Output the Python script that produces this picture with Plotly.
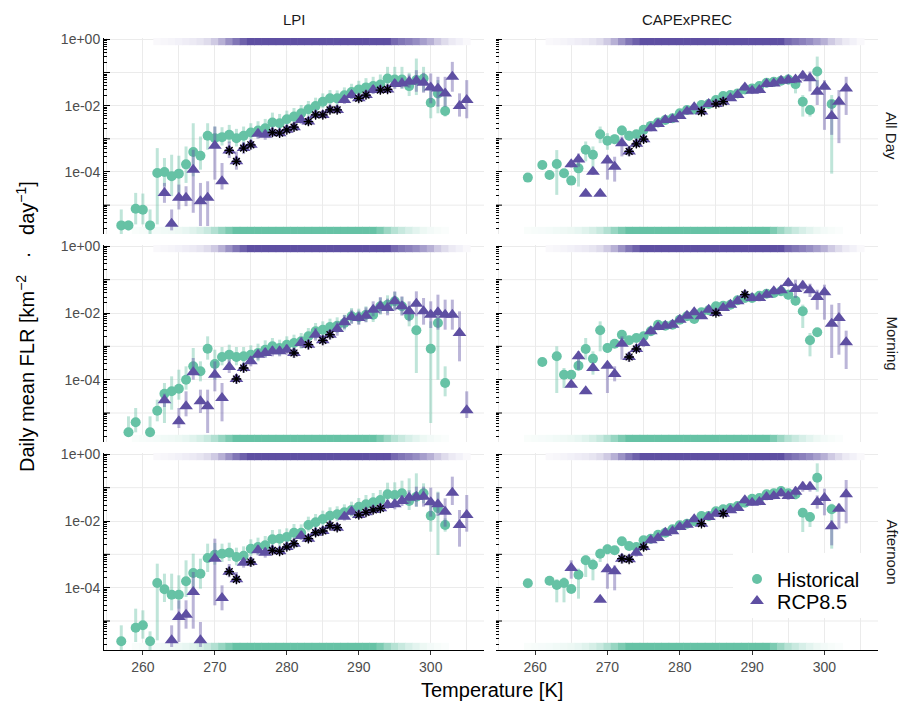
import plotly.graph_objects as go

# ---------------- data (T [K], log10 FLR, err down [dec], err up [dec]) ----------------
LPI_ALLDAY_HIST = [
    (257, -5.61, 0.30, 0.48), (258, -5.61, 0.15, 0.15), (259, -5.11, 0.47, 0.48), (260, -5.14, 0.44, 0.49),
    (261, -5.61, 0.30, 0.48), (262, -4.03, 1.55, 0.75), (263, -4.00, 0.43, 0.42), (264, -4.13, 0.60, 0.65),
    (265, -4.05, 0.58, 0.54), (266, -3.77, 0.56, 0.54), (267, -3.40, 0.73, 0.87), (268, -3.51, 0.42, 0.58),
    (269, -2.91, 0.42, 0.38), (270, -2.98, 0.25, 0.35), (271, -2.95, 0.25, 0.30), (272, -2.88, 0.25, 0.30),
    (273, -2.98, 0.25, 0.28), (274, -2.91, 0.25, 0.28), (275, -2.81, 0.22, 0.28), (276, -2.75, 0.22, 0.28),
    (277, -2.68, 0.22, 0.28), (278, -2.51, 0.22, 0.30), (279, -2.53, 0.22, 0.28), (280, -2.41, 0.20, 0.26),
    (281, -2.33, 0.20, 0.26), (282, -2.23, 0.20, 0.25), (283, -2.11, 0.20, 0.25), (284, -2.01, 0.20, 0.25),
    (285, -1.88, 0.20, 0.25), (286, -1.78, 0.20, 0.25), (287, -1.78, 0.20, 0.24), (288, -1.69, 0.20, 0.24),
    (289, -1.59, 0.20, 0.25), (290, -1.51, 0.20, 0.26), (291, -1.45, 0.22, 0.28), (292, -1.41, 0.22, 0.28),
    (293, -1.36, 0.22, 0.30), (294, -1.18, 0.25, 0.35), (295, -1.21, 0.25, 0.38), (296, -1.21, 0.28, 0.38),
    (297, -1.41, 0.30, 0.40), (298, -1.23, 0.45, 0.65), (299, -1.18, 0.40, 0.35), (300, -1.91, 0.47, 0.43),
    (301, -1.63, 0.60, 0.40), (302, -2.16, 0.17, 0.43),
]
LPI_ALLDAY_RCP = [
    (263, -4.63, 0.30, 0.30), (264, -5.56, 0.20, 0.43), (265, -4.78, 0.35, 0.40), (266, -4.78, 0.25, 0.35),
    (267, -3.93, 1.30, 0.60), (268, -4.88, 0.75, 0.55), (269, -4.78, 0.85, 0.50), (270, -3.21, 1.02, 0.58),
    (271, -4.28, 0.25, 0.55), (272, -3.35, 0.23, 0.27), (273, -3.68, 0.25, 0.30), (274, -3.28, 0.18, 0.18),
    (275, -3.18, 0.15, 0.15), (276, -2.85, 0.15, 0.15), (277, -2.88, 0.15, 0.15), (278, -2.81, 0.12, 0.12),
    (279, -2.83, 0.12, 0.12), (280, -2.73, 0.12, 0.12), (281, -2.65, 0.12, 0.12), (282, -2.43, 0.12, 0.15),
    (283, -2.48, 0.12, 0.12), (284, -2.28, 0.12, 0.12), (285, -2.28, 0.12, 0.12), (286, -2.13, 0.12, 0.12),
    (287, -2.13, 0.12, 0.12), (288, -1.83, 0.12, 0.15), (289, -1.68, 0.12, 0.15), (290, -1.78, 0.12, 0.12),
    (291, -1.68, 0.12, 0.12), (292, -1.53, 0.12, 0.15), (293, -1.53, 0.12, 0.12), (294, -1.51, 0.12, 0.12),
    (295, -1.35, 0.15, 0.15), (296, -1.33, 0.15, 0.18), (297, -1.28, 0.18, 0.22), (298, -1.25, 0.33, 0.32),
    (299, -1.31, 0.30, 0.30), (300, -1.45, 0.48, 0.42), (301, -1.48, 0.55, 0.35), (302, -1.63, 0.40, 0.50),
    (303, -1.13, 0.45, 0.45), (304, -2.01, 0.32, 0.38), (305, -1.83, 0.55, 0.60),
]
LPI_ALLDAY_STARS = [272, 273, 274, 275, 278, 279, 280, 281, 283, 284, 285, 286, 287, 290, 291, 293, 294]

CAPE_ALLDAY_HIST = [
    (259, -4.17, 0.05, 0.05), (261, -3.79, 0.05, 0.05), (262, -4.09, 0.05, 0.05), (263, -3.76, 0.93, 0.42),
    (264, -4.04, 0.10, 0.10), (265, -4.26, 0.12, 0.12), (266, -3.89, 0.55, 0.20), (267, -3.33, 0.35, 0.25),
    (268, -3.48, 0.45, 0.25), (269, -2.86, 0.27, 0.23), (270, -3.06, 0.27, 0.23), (271, -3.01, 0.15, 0.15),
    (272, -2.75, 0.15, 0.15), (273, -2.91, 0.15, 0.15), (274, -2.86, 0.12, 0.12), (275, -2.73, 0.12, 0.12),
    (276, -2.61, 0.12, 0.12), (277, -2.51, 0.12, 0.12), (278, -2.43, 0.10, 0.10), (279, -2.38, 0.10, 0.10),
    (280, -2.23, 0.10, 0.10), (281, -2.13, 0.10, 0.10), (282, -2.11, 0.10, 0.10), (283, -1.98, 0.10, 0.10),
    (284, -1.95, 0.10, 0.10), (285, -1.83, 0.10, 0.10), (286, -1.71, 0.10, 0.10), (287, -1.68, 0.10, 0.10),
    (288, -1.63, 0.10, 0.10), (289, -1.51, 0.10, 0.10), (290, -1.48, 0.10, 0.10), (291, -1.41, 0.10, 0.12),
    (292, -1.31, 0.12, 0.12), (293, -1.28, 0.12, 0.12), (294, -1.25, 0.12, 0.12), (295, -1.21, 0.15, 0.15),
    (296, -1.35, 0.28, 0.22), (297, -1.88, 0.45, 0.20), (298, -2.13, 0.20, 0.15), (299, -0.97, 0.45, 0.45),
    (301, -1.95, 2.10, 0.27),
]
CAPE_ALLDAY_RCP = [
    (265, -3.77, 0.10, 0.10), (266, -3.62, 0.22, 0.18), (267, -4.66, 0.05, 0.05), (268, -3.99, 0.10, 0.10),
    (269, -4.66, 0.05, 0.05), (270, -3.65, 0.58, 0.17), (271, -3.84, 0.45, 0.30), (272, -3.13, 0.40, 0.20),
    (273, -3.38, 0.15, 0.15), (274, -3.15, 0.12, 0.12), (275, -3.01, 0.12, 0.12), (276, -2.68, 0.10, 0.10),
    (277, -2.55, 0.10, 0.10), (278, -2.43, 0.08, 0.08), (279, -2.41, 0.08, 0.08), (280, -2.31, 0.08, 0.08),
    (281, -2.18, 0.08, 0.08), (282, -2.05, 0.08, 0.08), (283, -2.18, 0.08, 0.08), (284, -1.95, 0.08, 0.08),
    (285, -1.95, 0.08, 0.08), (286, -1.88, 0.08, 0.08), (287, -1.78, 0.08, 0.08), (288, -1.68, 0.08, 0.08),
    (289, -1.45, 0.10, 0.10), (290, -1.55, 0.10, 0.10), (291, -1.53, 0.10, 0.10), (292, -1.35, 0.10, 0.10),
    (293, -1.33, 0.10, 0.10), (294, -1.25, 0.10, 0.10), (295, -1.23, 0.12, 0.12), (296, -1.21, 0.12, 0.12),
    (297, -1.10, 0.15, 0.15), (298, -1.17, 0.40, 0.20), (299, -1.58, 0.40, 0.35), (300, -1.43, 1.30, 0.20),
    (301, -2.31, 0.57, 0.48), (302, -1.88, 1.25, 0.35), (303, -1.48, 0.80, 0.35),
]
CAPE_ALLDAY_STARS = [273, 274, 275, 283, 285, 286]

LPI_MORNING_HIST = [
    (258, -5.58, 0.10, 0.48), (259, -5.28, 0.30, 0.43), (261, -5.58, 0.10, 0.48), (262, -4.93, 0.32, 0.33),
    (263, -4.42, 0.88, 0.32), (264, -4.35, 0.55, 0.45), (265, -4.27, 0.33, 0.57), (266, -4.00, 0.30, 0.40),
    (267, -3.60, 0.25, 0.55), (268, -3.75, 0.30, 0.30), (269, -3.07, 0.33, 0.37), (270, -3.53, 0.47, 0.43),
    (271, -3.32, 0.25, 0.30), (272, -3.25, 0.25, 0.30), (273, -3.32, 0.25, 0.30), (274, -3.30, 0.25, 0.28),
    (275, -3.25, 0.25, 0.28), (276, -3.20, 0.25, 0.28), (277, -3.10, 0.22, 0.28), (278, -3.00, 0.22, 0.25),
    (279, -3.05, 0.22, 0.25), (280, -2.95, 0.22, 0.25), (281, -2.90, 0.22, 0.25), (282, -2.85, 0.22, 0.25),
    (283, -2.70, 0.22, 0.25), (284, -2.55, 0.22, 0.25), (285, -2.50, 0.22, 0.25), (286, -2.42, 0.22, 0.25),
    (287, -2.38, 0.22, 0.25), (288, -2.30, 0.22, 0.25), (289, -2.10, 0.22, 0.25), (290, -2.12, 0.22, 0.25),
    (291, -2.05, 0.22, 0.25), (292, -2.05, 0.22, 0.25), (293, -1.80, 0.25, 0.25), (294, -1.75, 0.25, 0.28),
    (295, -1.65, 0.25, 0.28), (296, -1.80, 0.25, 0.28), (297, -2.08, 0.32, 0.28), (298, -2.52, 1.28, 0.42),
    (300, -3.07, 2.23, 0.82), (301, -2.30, 1.70, 0.25), (302, -4.10, 0.40, 0.50),
]
LPI_MORNING_RCP = [
    (263, -4.62, 0.20, 0.20), (265, -5.25, 0.20, 0.40), (266, -4.80, 0.30, 0.45), (267, -3.78, 0.22, 0.43),
    (268, -4.65, 0.35, 0.35), (269, -4.80, 0.80, 0.50), (270, -3.85, 0.50, 0.40), (271, -4.55, 0.70, 0.45),
    (272, -3.62, 0.18, 0.22), (273, -3.98, 0.15, 0.15), (274, -3.65, 0.15, 0.15), (275, -3.45, 0.15, 0.15),
    (276, -3.25, 0.15, 0.15), (277, -3.20, 0.15, 0.15), (278, -3.15, 0.15, 0.15), (279, -3.15, 0.15, 0.15),
    (280, -3.10, 0.15, 0.15), (281, -3.20, 0.15, 0.15), (282, -2.90, 0.15, 0.18), (283, -2.95, 0.15, 0.15),
    (284, -2.65, 0.18, 0.20), (285, -2.82, 0.15, 0.15), (286, -2.65, 0.15, 0.15), (287, -2.48, 0.20, 0.22),
    (288, -2.28, 0.20, 0.22), (289, -2.12, 0.20, 0.22), (290, -2.15, 0.20, 0.22), (291, -2.08, 0.20, 0.25),
    (292, -1.90, 0.20, 0.25), (293, -1.80, 0.22, 0.28), (294, -1.85, 0.22, 0.28), (295, -1.65, 0.28, 0.30),
    (296, -1.80, 0.28, 0.30), (297, -1.95, 0.30, 0.30), (298, -1.72, 0.38, 0.37), (299, -1.95, 0.40, 0.40),
    (300, -2.05, 0.40, 0.40), (301, -1.98, 0.52, 0.53), (302, -2.05, 0.45, 0.45), (303, -2.05, 0.45, 0.45),
    (304, -2.60, 0.85, 0.65), (305, -4.92, 0.23, 0.57),
]
LPI_MORNING_STARS = [273, 274, 281, 283, 285, 286]

CAPE_MORNING_HIST = [
    (261, -3.47, 0.05, 0.05), (263, -3.30, 1.10, 0.30), (264, -3.85, 0.40, 0.20), (265, -3.85, 0.10, 0.10),
    (266, -3.58, 0.12, 0.20), (267, -3.08, 0.32, 0.33), (268, -3.37, 0.48, 0.22), (269, -2.52, 0.63, 0.27),
    (270, -3.05, 0.15, 0.15), (271, -2.92, 0.12, 0.12), (272, -2.65, 0.12, 0.12), (273, -2.82, 0.12, 0.12),
    (274, -2.75, 0.12, 0.12), (275, -2.70, 0.12, 0.12), (276, -2.55, 0.10, 0.10), (277, -2.35, 0.10, 0.10),
    (278, -2.38, 0.10, 0.10), (279, -2.35, 0.10, 0.10), (280, -2.20, 0.10, 0.10), (281, -2.10, 0.10, 0.10),
    (282, -2.18, 0.10, 0.10), (283, -1.98, 0.10, 0.10), (284, -1.92, 0.10, 0.10), (285, -1.80, 0.10, 0.10),
    (286, -1.78, 0.10, 0.10), (287, -1.75, 0.10, 0.10), (288, -1.62, 0.10, 0.10), (289, -1.55, 0.10, 0.10),
    (290, -1.55, 0.10, 0.10), (291, -1.48, 0.10, 0.10), (292, -1.42, 0.10, 0.10), (293, -1.40, 0.10, 0.10),
    (294, -1.35, 0.12, 0.12), (295, -1.45, 0.15, 0.15), (296, -1.63, 0.15, 0.15), (297, -1.95, 0.50, 0.20),
    (298, -2.82, 0.48, 0.22), (299, -2.58, 0.10, 0.10),
]
CAPE_MORNING_RCP = [
    (265, -4.15, 0.10, 0.10), (266, -3.30, 0.40, 0.15), (267, -4.35, 0.05, 0.05), (268, -3.65, 0.10, 0.10),
    (270, -3.58, 0.82, 0.08), (271, -3.83, 0.22, 0.23), (272, -2.92, 0.48, 0.22), (273, -3.32, 0.15, 0.15),
    (274, -3.08, 0.12, 0.12), (275, -2.90, 0.12, 0.12), (276, -2.55, 0.10, 0.10), (277, -2.42, 0.10, 0.10),
    (278, -2.38, 0.08, 0.08), (279, -2.35, 0.08, 0.08), (280, -2.20, 0.08, 0.08), (281, -2.08, 0.08, 0.08),
    (282, -1.98, 0.08, 0.08), (283, -2.10, 0.08, 0.08), (284, -1.90, 0.08, 0.08), (285, -2.00, 0.08, 0.08),
    (286, -1.85, 0.08, 0.08), (287, -1.75, 0.08, 0.08), (288, -1.65, 0.08, 0.08), (289, -1.45, 0.10, 0.10),
    (290, -1.55, 0.10, 0.10), (291, -1.55, 0.10, 0.10), (292, -1.45, 0.10, 0.10), (293, -1.35, 0.10, 0.10),
    (294, -1.32, 0.10, 0.10), (295, -1.10, 0.12, 0.12), (296, -1.28, 0.27, 0.28), (297, -1.18, 0.15, 0.15),
    (298, -1.32, 0.20, 0.20), (299, -1.52, 0.38, 0.22), (300, -1.38, 0.82, 0.23), (301, -2.32, 1.03, 0.57),
    (302, -2.15, 1.10, 0.45), (303, -2.88, 0.80, 0.35),
]
CAPE_MORNING_STARS = [273, 274, 285, 289]

LPI_AFTERNOON_HIST = [
    (257, -5.61, 0.30, 0.48), (259, -5.20, 0.43, 0.57), (260, -5.13, 0.40, 0.45), (261, -5.61, 0.30, 0.30),
    (262, -3.86, 1.72, 0.58), (263, -4.05, 0.38, 0.47), (264, -4.21, 0.47, 0.63), (265, -4.21, 0.42, 0.58),
    (266, -3.81, 0.47, 0.63), (267, -3.56, 0.57, 0.58), (268, -3.58, 0.45, 0.45), (269, -3.11, 0.42, 0.43),
    (270, -3.01, 0.30, 0.35), (271, -2.98, 0.25, 0.30), (272, -2.95, 0.25, 0.30), (273, -3.08, 0.25, 0.28),
    (274, -3.04, 0.25, 0.28), (275, -2.83, 0.22, 0.28), (276, -2.78, 0.22, 0.28), (277, -2.73, 0.22, 0.28),
    (278, -2.55, 0.22, 0.28), (279, -2.53, 0.22, 0.28), (280, -2.48, 0.20, 0.26), (281, -2.35, 0.20, 0.26),
    (282, -2.35, 0.20, 0.25), (283, -2.12, 0.20, 0.25), (284, -2.04, 0.20, 0.25), (285, -1.94, 0.20, 0.25),
    (286, -1.84, 0.20, 0.25), (287, -1.80, 0.20, 0.24), (288, -1.74, 0.20, 0.24), (289, -1.67, 0.20, 0.25),
    (290, -1.57, 0.20, 0.26), (291, -1.50, 0.22, 0.28), (292, -1.44, 0.22, 0.28), (293, -1.37, 0.22, 0.30),
    (294, -1.20, 0.25, 0.35), (295, -1.22, 0.25, 0.38), (296, -1.17, 0.28, 0.38), (297, -1.40, 0.27, 0.68),
    (298, -1.27, 0.30, 0.70), (299, -1.17, 0.30, 0.30), (300, -1.84, 0.48, 0.47), (301, -1.62, 1.40, 0.50),
    (302, -2.12, 0.20, 0.20),
]
LPI_AFTERNOON_RCP = [
    (264, -5.58, 0.20, 0.45), (265, -4.88, 0.75, 0.50), (266, -4.81, 0.42, 0.43), (267, -4.13, 1.10, 0.60),
    (268, -5.58, 0.20, 0.55), (270, -3.13, 1.40, 0.60), (271, -4.31, 0.37, 0.38), (272, -3.52, 0.17, 0.23),
    (273, -3.75, 0.13, 0.22), (274, -3.25, 0.15, 0.15), (275, -3.23, 0.15, 0.15), (276, -2.88, 0.15, 0.15),
    (277, -2.95, 0.15, 0.15), (278, -2.88, 0.12, 0.12), (279, -2.91, 0.12, 0.12), (280, -2.78, 0.12, 0.12),
    (281, -2.68, 0.12, 0.12), (282, -2.45, 0.12, 0.15), (283, -2.53, 0.12, 0.12), (284, -2.35, 0.12, 0.12),
    (285, -2.30, 0.12, 0.12), (286, -2.14, 0.12, 0.12), (287, -2.20, 0.12, 0.12), (288, -1.87, 0.12, 0.15),
    (289, -1.72, 0.12, 0.15), (290, -1.82, 0.12, 0.12), (291, -1.74, 0.12, 0.12), (292, -1.67, 0.12, 0.12),
    (293, -1.62, 0.12, 0.12), (294, -1.52, 0.12, 0.15), (295, -1.50, 0.15, 0.15), (296, -1.40, 0.15, 0.18),
    (297, -1.30, 0.18, 0.22), (298, -1.27, 0.30, 0.30), (299, -1.27, 0.30, 0.30), (300, -1.44, 0.43, 0.44),
    (301, -1.50, 0.35, 0.35), (302, -1.72, 0.45, 0.40), (303, -1.15, 0.37, 0.48), (304, -2.12, 0.65, 0.45),
    (305, -1.82, 0.50, 0.60),
]
LPI_AFTERNOON_STARS = [272, 273, 275, 278, 279, 280, 281, 283, 284, 285, 286, 287, 290, 291, 292, 293]

CAPE_AFTERNOON_HIST = [
    (259, -3.87, 0.05, 0.05), (262, -3.79, 0.05, 0.05), (263, -3.92, 0.52, 0.18), (264, -3.86, 0.58, 0.17),
    (265, -4.04, 0.10, 0.10), (266, -3.61, 0.72, 0.18), (267, -3.18, 0.50, 0.15), (268, -3.31, 0.47, 0.18),
    (269, -2.98, 0.25, 0.15), (270, -2.85, 0.15, 0.15), (271, -2.88, 0.12, 0.12), (272, -2.61, 0.12, 0.12),
    (273, -2.75, 0.12, 0.12), (274, -2.78, 0.12, 0.12), (275, -2.58, 0.12, 0.12), (276, -2.53, 0.10, 0.10),
    (277, -2.41, 0.10, 0.10), (278, -2.35, 0.10, 0.10), (279, -2.25, 0.10, 0.10), (280, -2.13, 0.10, 0.10),
    (281, -2.08, 0.10, 0.10), (282, -2.01, 0.10, 0.10), (283, -1.85, 0.10, 0.10), (284, -1.85, 0.10, 0.10),
    (285, -1.71, 0.10, 0.10), (286, -1.65, 0.10, 0.10), (287, -1.61, 0.10, 0.10), (288, -1.55, 0.10, 0.10),
    (289, -1.45, 0.10, 0.10), (290, -1.33, 0.10, 0.10), (291, -1.31, 0.10, 0.10), (292, -1.20, 0.10, 0.10),
    (293, -1.17, 0.10, 0.10), (294, -1.10, 0.12, 0.12), (295, -1.17, 0.12, 0.12), (296, -1.20, 0.15, 0.15),
    (297, -1.75, 0.58, 0.12), (298, -1.88, 0.30, 0.15), (299, -0.70, 0.42, 0.43), (301, -1.65, 1.18, 0.17),
]
CAPE_AFTERNOON_RCP = [
    (265, -3.41, 0.32, 0.23), (269, -4.36, 0.05, 0.05), (270, -3.45, 0.58, 0.17), (271, -3.51, 0.57, 0.18),
    (272, -3.13, 0.15, 0.15), (273, -3.15, 0.12, 0.12), (274, -2.95, 0.12, 0.12), (275, -2.78, 0.12, 0.12),
    (276, -2.58, 0.10, 0.10), (277, -2.51, 0.10, 0.10), (278, -2.35, 0.08, 0.08), (279, -2.31, 0.08, 0.08),
    (280, -2.18, 0.08, 0.08), (281, -2.11, 0.08, 0.08), (282, -1.95, 0.08, 0.08), (283, -2.08, 0.08, 0.08),
    (284, -1.88, 0.08, 0.08), (285, -1.78, 0.08, 0.08), (286, -1.78, 0.08, 0.08), (287, -1.68, 0.08, 0.08),
    (288, -1.61, 0.08, 0.08), (289, -1.38, 0.10, 0.10), (290, -1.45, 0.10, 0.10), (291, -1.43, 0.10, 0.10),
    (292, -1.28, 0.10, 0.10), (293, -1.25, 0.10, 0.10), (294, -1.17, 0.10, 0.10), (295, -1.25, 0.12, 0.12),
    (296, -1.12, 0.15, 0.15), (297, -0.97, 0.15, 0.15), (298, -0.97, 0.15, 0.15), (299, -1.43, 0.20, 0.20),
    (300, -1.31, 0.52, 0.28), (301, -2.16, 0.57, 0.18), (302, -1.63, 0.60, 0.15), (303, -1.20, 0.87, 0.43),
]
CAPE_AFTERNOON_STARS = [272, 273, 275, 283, 286]

# rug densities (relative opacity per 1 K bin)
HIST_RUG_T = [259, 260, 261, 262, 263, 264, 265, 266, 267, 268, 269, 270, 271, 272, 273, 274, 275, 276,
              277, 278, 279, 280, 281, 282, 283, 284, 285, 286, 287, 288, 289, 290, 291, 292, 293, 294,
              295, 296, 297, 298, 299, 300, 301, 302]
HIST_RUG_A = [0.04, 0.05, 0.06, 0.07, 0.09, 0.10, 0.12, 0.15, 0.20, 0.27, 0.36, 0.50, 0.68, 0.85, 1.0, 1.0,
              1.0, 1.0, 1.0, 1.0, 1.0, 1.0, 1.0, 1.0, 1.0, 1.0, 1.0, 1.0, 1.0, 1.0, 1.0, 1.0, 1.0, 1.0,
              0.85, 0.65, 0.48, 0.36, 0.26, 0.18, 0.12, 0.08, 0.05, 0.03]
RCP_RUG_T = [262, 263, 264, 265, 266, 267, 268, 269, 270, 271, 272, 273, 274, 275, 276, 277, 278, 279,
             280, 281, 282, 283, 284, 285, 286, 287, 288, 289, 290, 291, 292, 293, 294, 295, 296, 297,
             298, 299, 300, 301, 302, 303, 304, 305]
RCP_RUG_A = [0.04, 0.05, 0.06, 0.08, 0.10, 0.12, 0.15, 0.20, 0.30, 0.45, 0.62, 0.78, 0.90, 1.0, 1.0, 1.0,
             1.0, 1.0, 1.0, 1.0, 1.0, 1.0, 1.0, 1.0, 1.0, 1.0, 1.0, 1.0, 1.0, 1.0, 1.0, 1.0, 1.0, 0.85,
             0.78, 0.72, 0.65, 0.55, 0.45, 0.30, 0.20, 0.12, 0.08, 0.04]

COLUMNS = ["LPI", "CAPExPREC"]
ROWS = ["All Day", "Morning", "Afternoon"]
PANELS = [
    (LPI_ALLDAY_HIST, LPI_ALLDAY_RCP, LPI_ALLDAY_STARS),
    (CAPE_ALLDAY_HIST, CAPE_ALLDAY_RCP, CAPE_ALLDAY_STARS),
    (LPI_MORNING_HIST, LPI_MORNING_RCP, LPI_MORNING_STARS),
    (CAPE_MORNING_HIST, CAPE_MORNING_RCP, CAPE_MORNING_STARS),
    (LPI_AFTERNOON_HIST, LPI_AFTERNOON_RCP, LPI_AFTERNOON_STARS),
    (CAPE_AFTERNOON_HIST, CAPE_AFTERNOON_RCP, CAPE_AFTERNOON_STARS),
]
Y_LABEL_VALS = [1, 1e-2, 1e-4]
Y_LABEL_TEXT = ["1e+00", "1e-02", "1e-04"]
Y_ODD_DECADES = [1e-1, 1e-3, 1e-5]
X_TICK_VALS = [260, 270, 280, 290, 300]

# ---------------- styling / layout (page pixel coordinates) ----------------
OFF = 0                      # body margin is removed by the post script
W, H = 902, 702
GREEN = (102, 194, 165)
PURPLE = (94, 79, 162)
X_RANGE = [254.6, 307.4]
LOG_RANGE = [-5.87, 0.04]
COL_PX = [(104, 484), (496, 878)]
ROW_PX = [(38, 234), (245, 442), (453, 650)]
LEGEND_BOX = (733, 553, 880, 618)
GRID = "#ebebeb"
FONT = "Liberation Sans"
NB = "\u00a0"


def px_x(x):
    return (x - OFF) / W


def px_y(y):
    return 1 - (y - OFF) / H


def rgb(c):
    return "rgb(%d,%d,%d)" % c


def rgba(c, a):
    return "rgba(%d,%d,%d,%.2f)" % (c[0], c[1], c[2], a)


def blend(c, a):
    return "rgb(%d,%d,%d)" % tuple(round(255 * (1 - a) + v * a) for v in c)


fig = go.Figure()
shapes = []

for k, (hist, rcp, stars) in enumerate(PANELS):
    r, c = divmod(k, 2)
    n = k + 1
    sx = "" if n == 1 else str(n)
    xref, yref = "x" + sx, "y" + sx

    # rugs
    rug_len = 6
    dec_per_px = (LOG_RANGE[1] - LOG_RANGE[0]) / (ROW_PX[r][1] - ROW_PX[r][0])
    y_bot = 10 ** (LOG_RANGE[0] + dec_per_px * rug_len / 2)
    y_top = 10 ** (LOG_RANGE[1] - dec_per_px * rug_len / 2)
    px_per_k = (COL_PX[c][1] - COL_PX[c][0]) / (X_RANGE[1] - X_RANGE[0])
    fig.add_trace(go.Scatter(
        x=HIST_RUG_T, y=[y_bot] * len(HIST_RUG_T), mode="markers", xaxis=xref, yaxis=yref,
        marker=dict(symbol="line-ns", size=rug_len,
                    line=dict(width=px_per_k + 0.6, color=[blend(GREEN, a) for a in HIST_RUG_A])),
        showlegend=False, hoverinfo="skip"))
    fig.add_trace(go.Scatter(
        x=RCP_RUG_T, y=[y_top] * len(RCP_RUG_T), mode="markers", xaxis=xref, yaxis=yref,
        marker=dict(symbol="line-ns", size=rug_len,
                    line=dict(width=px_per_k + 0.6, color=[blend(PURPLE, a) for a in RCP_RUG_A])),
        showlegend=False, hoverinfo="skip"))

    for data, col, sym, size, name, leg in [(hist, GREEN, "circle", 10, "Historical", "legend"),
                                            (rcp, PURPLE, "triangle-up", 12, "RCP8.5", "legend2")]:
        xs = [d[0] for d in data]
        ys = [10 ** d[1] for d in data]
        minus = [10 ** d[1] - 10 ** (d[1] - d[2]) for d in data]
        plus = [10 ** (d[1] + d[3]) - 10 ** d[1] for d in data]
        fig.add_trace(go.Scatter(
            x=xs, y=ys, mode="markers", xaxis=xref, yaxis=yref, name=name, legendgroup=name,
            legend=leg, showlegend=(n == 1),
            marker=dict(symbol=sym, size=size, color=rgb(col), line=dict(width=0)),
            error_y=dict(type="data", symmetric=False, array=plus, arrayminus=minus,
                         color=rgba(col, 0.42), thickness=3, width=0)))

    lookup = {d[0]: d[1] for d in rcp}
    fig.add_trace(go.Scatter(
        x=stars, y=[10 ** lookup[t] for t in stars], mode="markers", xaxis=xref, yaxis=yref,
        marker=dict(symbol="asterisk-open", size=8, color="black", line=dict(width=1.3, color="black")),
        showlegend=False, hoverinfo="skip"))

    x0, x1 = COL_PX[c]
    y0, y1 = ROW_PX[r]
    bottom = (r == 2)
    left = (c == 0)
    fig.update_layout(**{
        "xaxis" + sx: dict(
            domain=[px_x(x0), px_x(x1)], range=X_RANGE, anchor=yref, automargin=False,
            tickmode="array", tickvals=X_TICK_VALS, showticklabels=bottom,
            ticks="outside" if bottom else "", ticklen=4, tickcolor="#333333",
            showline=bottom, linecolor="black", linewidth=1,
            showgrid=True, gridcolor=GRID, gridwidth=1, zeroline=False,
            minor=dict(tickmode="linear", tick0=255, dtick=5, showgrid=True, gridcolor=GRID, gridwidth=1),
            tickfont=dict(size=14, color="#4d4d4d", family=FONT),
        ),
        "yaxis" + sx: dict(
            domain=[px_y(y1), px_y(y0)], type="log", range=LOG_RANGE, anchor=xref, automargin=False,
            tickmode="array", tickvals=Y_LABEL_VALS, ticktext=Y_LABEL_TEXT, showticklabels=left,
            ticks="inside", ticklen=6, tickcolor="black", tickwidth=1,
            showline=left, linecolor="black", linewidth=1,
            showgrid=True, gridcolor=GRID, gridwidth=1, zeroline=False,
            minor=dict(tickmode="linear", dtick="D1", ticks="inside", ticklen=3,
                       tickcolor="black", showgrid=False),
            tickfont=dict(size=14, color="#4d4d4d", family=FONT),
        ),
    })
    # gridlines and long log-ticks at the unlabelled decades
    for v in Y_ODD_DECADES:
        shapes.append(dict(type="line", xref=xref + " domain", yref=yref, x0=0, x1=1, y0=v, y1=v,
                           line=dict(color=GRID, width=1), layer="below"))
        shapes.append(dict(type="line", xref=xref + " domain", yref=yref, x0=0, x1=6 / (x1 - x0),
                           y0=v, y1=v, line=dict(color="black", width=1), layer="above"))

# white legend background box (legend keys drawn on top of it)
bx0, by0, bx1, by1 = LEGEND_BOX
shapes.append(dict(type="rect", xref="paper", yref="paper", x0=px_x(bx0), x1=px_x(bx1),
                   y0=px_y(by1), y1=px_y(by0), fillcolor="white", line=dict(width=0), layer="above"))

annotations = []
for c, label in enumerate(COLUMNS):
    annotations.append(dict(text=label, x=px_x((COL_PX[c][0] + COL_PX[c][1]) / 2), y=px_y(20),
                            xref="paper", yref="paper", showarrow=False, xanchor="center", yanchor="middle",
                            font=dict(size=15, color="#1a1a1a", family=FONT)))
for r, label in enumerate(ROWS):
    annotations.append(dict(text=label, x=px_x(892), y=px_y((ROW_PX[r][0] + ROW_PX[r][1]) / 2),
                            xref="paper", yref="paper", showarrow=False, textangle=90,
                            xanchor="center", yanchor="middle",
                            font=dict(size=15, color="#1a1a1a", family=FONT)))
annotations.append(dict(text="Temperature [K]", x=px_x(492), y=px_y(690), xref="paper", yref="paper",
                        showarrow=False, xanchor="center", yanchor="middle",
                        font=dict(size=20, color="black", family=FONT)))
annotations.append(dict(text="Daily mean FLR [km<sup>−2</sup>" + NB * 3 + "·" + NB * 3 + "day<sup>−1</sup>]",
                        x=px_x(25), y=px_y(327),
                        xref="paper", yref="paper", showarrow=False, textangle=-90,
                        xanchor="center", yanchor="middle",
                        font=dict(size=20, color="black", family=FONT)))

legend_style = dict(xanchor="left", yanchor="middle", bgcolor="rgba(255,255,255,0)",
                    font=dict(size=20, color="black", family=FONT), itemsizing="trace")
fig.update_layout(
    width=W, height=H, margin=dict(l=0, r=0, t=0, b=0, pad=0, autoexpand=False),
    paper_bgcolor="white", plot_bgcolor="white",
    font=dict(family=FONT),
    annotations=annotations,
    shapes=shapes,
    legend=dict(x=px_x(737), y=px_y(579), **legend_style),
    legend2=dict(x=px_x(737), y=px_y(601), **legend_style),
)

fig.write_html("out.html",
               config={"displayModeBar": False},
               post_script="document.body.style.margin='0';document.body.style.overflow='hidden';")
